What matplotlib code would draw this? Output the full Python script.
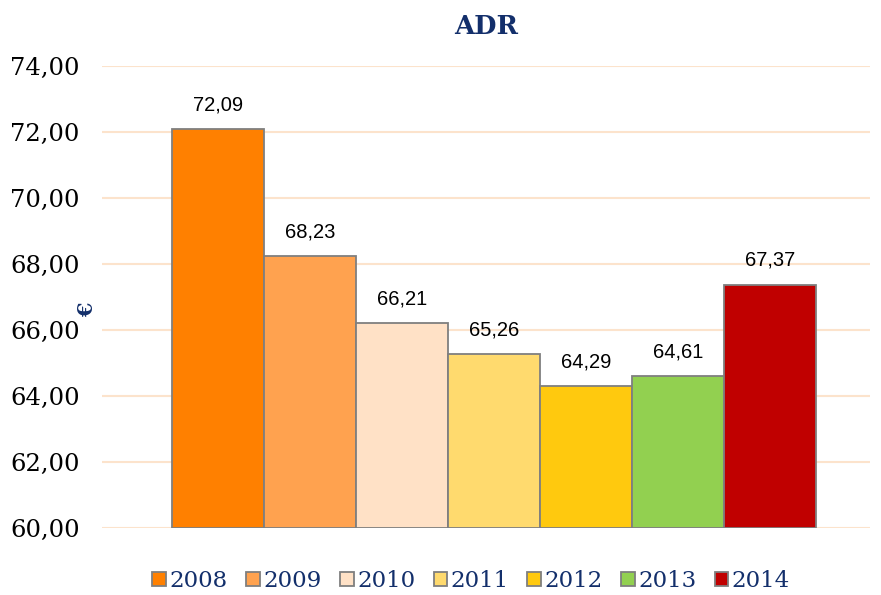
import matplotlib
matplotlib.use('Agg')
import matplotlib.pyplot as plt
from matplotlib.patches import Patch

years = ['2008', '2009', '2010', '2011', '2012', '2013', '2014']
adr = [72.09, 68.23, 66.21, 65.26, 64.29, 64.61, 67.37]
colors = ['#FF8000', '#FFA24F', '#FFE1C6', '#FFDA6E', '#FFC90E', '#92D050', '#C00000']
yticks = [60, 62, 64, 66, 68, 70, 72, 74]

navy = '#132F6B'

fig = plt.figure(figsize=(8.81, 5.95), dpi=100)
ax = fig.add_axes([0.1158, 0.1126, 0.8717, 0.7764])

x = list(range(len(years)))
ax.bar(x, [v - 60 for v in adr], bottom=60, width=1.0, color=colors,
       edgecolor='#7F7F7F', linewidth=1.3, zorder=3)

# data labels
for xi, v in zip(x, adr):
    ax.text(xi, v + 0.45, f'{v:.2f}'.replace('.', ','), ha='center', va='bottom',
            fontsize=14.5, family='Liberation Sans', color='black')

ax.set_xlim(-1.26, 7.09)
ax.set_ylim(60, 74)
ax.set_yticks(yticks)
ax.set_yticklabels([f'{t:.2f}'.replace('.', ',') for t in yticks],
                   family='DejaVu Serif', fontsize=17.5)
ax.set_xticks([])
ax.tick_params(axis='y', length=0, pad=16)
ax.grid(axis='y', color='#FCE3CC', linewidth=1.5, zorder=0)
for s in ax.spines.values():
    s.set_visible(False)

# euro sign sits between tick labels and plot area
ax.text(-0.02, 0.472, '€', transform=ax.transAxes, rotation=90, ha='center', va='center',
        color=navy, fontsize=15, fontweight='bold', family='DejaVu Serif')
ax.set_title('ADR', color=navy, fontsize=18.5, fontweight='bold', family='DejaVu Serif', pad=23)

handles = [Patch(facecolor=c, edgecolor='#7F7F7F', linewidth=1.3) for c in colors]
leg = fig.legend(handles, years, loc='lower center', bbox_to_anchor=(0.535, -0.03), ncol=7,
                 frameon=False, handlelength=0.6, handleheight=0.6, handletextpad=0.15,
                 columnspacing=0.8, prop={'family': 'DejaVu Serif', 'size': 16.5})
for t in leg.get_texts():
    t.set_color(navy)

fig.savefig('out.png', dpi=100)
